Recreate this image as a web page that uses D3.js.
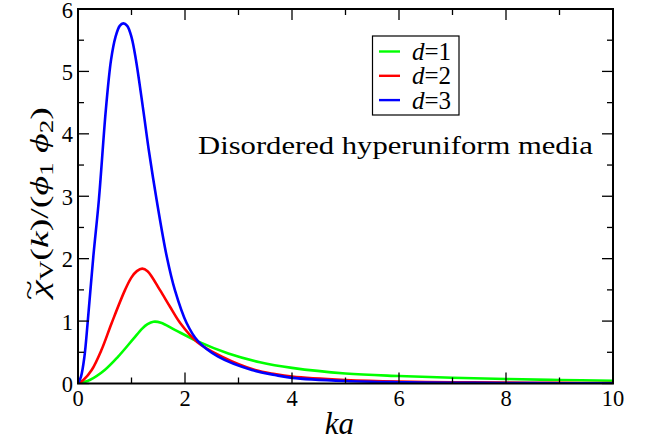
<!DOCTYPE html>
<html>
<head>
<meta charset="utf-8">
<script src="https://cdn.jsdelivr.net/npm/d3@7"></script>
<style>
  body { margin: 0; background: #fff; }
</style>
</head>
<body>
<div id="graphicContainer"></div>
<script>
// values
var ka1 = [0, 0.22, 0.5, 0.75, 1.03, 1.2, 1.3, 1.41, 1.55, 1.81, 2.25, 2.81, 3.4, 4, 5, 6, 7, 8, 9, 10]
var chi1 = [0, 0.056, 0.216, 0.43, 0.71, 0.88, 0.95, 0.99, 0.975, 0.86, 0.67, 0.48, 0.34, 0.25, 0.16, 0.12, 0.093, 0.072, 0.056, 0.045]

var ka2 = [0, 0.1, 0.256, 0.44, 0.63, 0.88, 1.0, 1.1, 1.2, 1.3, 1.53, 1.72, 1.91, 2.22, 2.69, 3.31, 3.68, 4, 5, 6, 7, 8, 9, 10]
var chi2 = [0, 0.056, 0.216, 0.54, 0.97, 1.5, 1.7, 1.8, 1.84, 1.8, 1.5, 1.23, 0.97, 0.67, 0.43, 0.216, 0.15, 0.11, 0.056, 0.03, 0.02, 0.014, 0.01, 0.008]

var ka3 = [0, 0.056, 0.12, 0.18, 0.286, 0.39, 0.52, 0.617, 0.70, 0.78, 0.847, 0.92, 1.0, 1.084, 1.22, 1.33, 1.47, 1.66, 1.81, 2.03, 2.25, 2.62, 3.25, 3.68, 4, 5, 6, 7, 8, 9, 10]
var chi3 = [0, 0.11, 0.43, 0.97, 2.03, 2.94, 4.38, 5.18, 5.55, 5.73, 5.77, 5.73, 5.55, 5.18, 4.38, 3.7, 2.94, 2.03, 1.5, 0.97, 0.67, 0.43, 0.216, 0.136, 0.09, 0.04, 0.02, 0.012, 0.008, 0.005, 0.004]

var seriesLabels = ["1", "2", "3"]
var seriesColors = ["#00ff00", "#ff0000", "#0000ff"]
var xTicks = [0, 2, 4, 6, 8, 10]
var yTicks = [0, 1, 2, 3, 4, 5, 6]
var xMinor = [1, 3, 5, 7, 9]
var yMinor = [0.5, 1.5, 2.5, 3.5, 4.5, 5.5]

var serif = "'Liberation Serif', 'Times New Roman', Times, serif"

var width = 651
var height = 446
var margin = { top: 9, right: 38, bottom: 62.5, left: 78 }
var w = width - margin.left - margin.right
var h = height - margin.top - margin.bottom

var svg = d3.select("#graphicContainer").append("svg")
  .attr("width", width)
  .attr("height", height)
  .style("font-family", serif)

var features = svg.append("g").attr("transform", "translate(" + margin.left + "," + margin.top + ")")

var x = d3.scaleLinear().domain([0, 10]).range([0, w])
var y = d3.scaleLinear().domain([0, 6]).range([h, 0])

var series = [
  { ka: ka1, chi: chi1 },
  { ka: ka2, chi: chi2 },
  { ka: ka3, chi: chi3 }
]

var line = d3.line()
  .x(function (d) { return x(d[0]) })
  .y(function (d) { return y(d[1]) })
  .curve(d3.curveCatmullRom.alpha(0.5))

var clip = svg.append("clipPath").attr("id", "plotClip")
clip.append("rect").attr("x", -2).attr("y", -2).attr("width", w + 4).attr("height", h + 2)

series.forEach(function (s, i) {
  var pts = s.ka.map(function (k, j) { return [k, s.chi[j]] })
  features.append("path")
    .datum(pts)
    .attr("d", line)
    .attr("fill", "none")
    .attr("stroke", seriesColors[i])
    .attr("stroke-width", 2.6)
    .attr("clip-path", "url(#plotClip)")
})

// ticks pointing inward on all four sides
function drawTicks(g, scale, vals, len, orient) {
  vals.forEach(function (v) {
    var p = scale(v)
    var l = g.append("line").attr("stroke", "#000").attr("stroke-width", 1.3)
    if (orient == "bottom") l.attr("x1", p).attr("x2", p).attr("y1", h).attr("y2", h - len)
    if (orient == "top") l.attr("x1", p).attr("x2", p).attr("y1", 0).attr("y2", len)
    if (orient == "left") l.attr("y1", p).attr("y2", p).attr("x1", 0).attr("x2", len)
    if (orient == "right") l.attr("y1", p).attr("y2", p).attr("x1", w).attr("x2", w - len)
  })
}

var tickG = features.append("g")
drawTicks(tickG, x, xTicks, 11, "bottom")
drawTicks(tickG, x, xMinor, 6, "bottom")
drawTicks(tickG, x, xTicks, 11, "top")
drawTicks(tickG, x, xMinor, 6, "top")
drawTicks(tickG, y, yTicks, 11, "left")
drawTicks(tickG, y, yMinor, 6, "left")
drawTicks(tickG, y, yTicks, 11, "right")
drawTicks(tickG, y, yMinor, 6, "right")

features.append("rect")
  .attr("width", w)
  .attr("height", h)
  .attr("fill", "none")
  .attr("stroke", "#000")
  .attr("stroke-width", 2)

features.selectAll(".xLabel")
  .data(xTicks)
  .enter().append("text")
  .attr("class", "xLabel")
  .attr("x", function (d) { return x(d) })
  .attr("y", h + 22.5)
  .style("text-anchor", "middle")
  .style("font-size", "22.5px")
  .text(function (d) { return d })

features.selectAll(".yLabel")
  .data(yTicks)
  .enter().append("text")
  .attr("class", "yLabel")
  .attr("x", -5)
  .attr("y", function (d) { return y(d) + 8.5 })
  .style("text-anchor", "end")
  .style("font-size", "22.5px")
  .text(function (d) { return d })

// axis titles
svg.append("text")
  .attr("x", margin.left + x(5) - 6)
  .attr("y", 434)
  .style("text-anchor", "middle")
  .style("font-size", "31px")
  .style("font-style", "italic")
  .text("ka")

// the figure's lettering is a bit wider than the font, so stretch along the text
var yTitle = svg.append("g")
var yt = yTitle.append("text").style("font-size", "25px")
yt.append("tspan").style("font-style", "italic").text("χ")
yt.append("tspan").attr("dy", 5).style("font-size", "18px").text("V")
yt.append("tspan").attr("dy", -5).text("(")
yt.append("tspan").style("font-style", "italic").text("k")
yt.append("tspan").text(")/(")
yt.append("tspan").style("font-style", "italic").text("ϕ")
yt.append("tspan").attr("dy", 5).style("font-size", "18px").text("1")
yt.append("tspan").attr("dy", -5).style("font-style", "italic").text(" ϕ")
yt.append("tspan").attr("dy", 5).style("font-size", "18px").text("2")
yt.append("tspan").attr("dy", -5).text(")")
var tl = yt.node().getComputedTextLength()
yt.attr("x", -tl / 2)
var sy = 190 / tl
yTitle.attr("transform", "translate(48,202) rotate(-90) scale(" + sy + ",1)")
var chiBox = yt.node().getExtentOfChar(0)
yTitle.append("text")
  .attr("x", chiBox.x + chiBox.width / 2 - 1)
  .attr("y", -11)
  .style("text-anchor", "middle")
  .style("font-size", "24px")
  .text("~")

// legend
var legend = svg.append("g")
legend.append("rect")
  .attr("x", 372.5)
  .attr("y", 36)
  .attr("width", 86.5)
  .attr("height", 79)
  .attr("fill", "#fff")
  .attr("stroke", "#000")
  .attr("stroke-width", 1.2)

seriesLabels.forEach(function (lab, i) {
  var ly = 51.5 + i * 24.3
  legend.append("line")
    .attr("x1", 379).attr("x2", 400)
    .attr("y1", ly).attr("y2", ly)
    .attr("stroke", seriesColors[i])
    .attr("stroke-width", 2.4)
  legend.append("text")
    .attr("x", 412)
    .attr("y", ly + 8.5)
    .style("font-size", "25px")
    .html("<tspan font-style='italic'>d</tspan>=" + lab)
})

var note = svg.append("g")
var noteText = note.append("text")
  .style("font-size", "26px")
  .text("Disordered hyperuniform media")
var nl = noteText.node().getComputedTextLength()
note.attr("transform", "translate(198,154) scale(" + (395 / nl) + ",1)")
</script>
</body>
</html>
